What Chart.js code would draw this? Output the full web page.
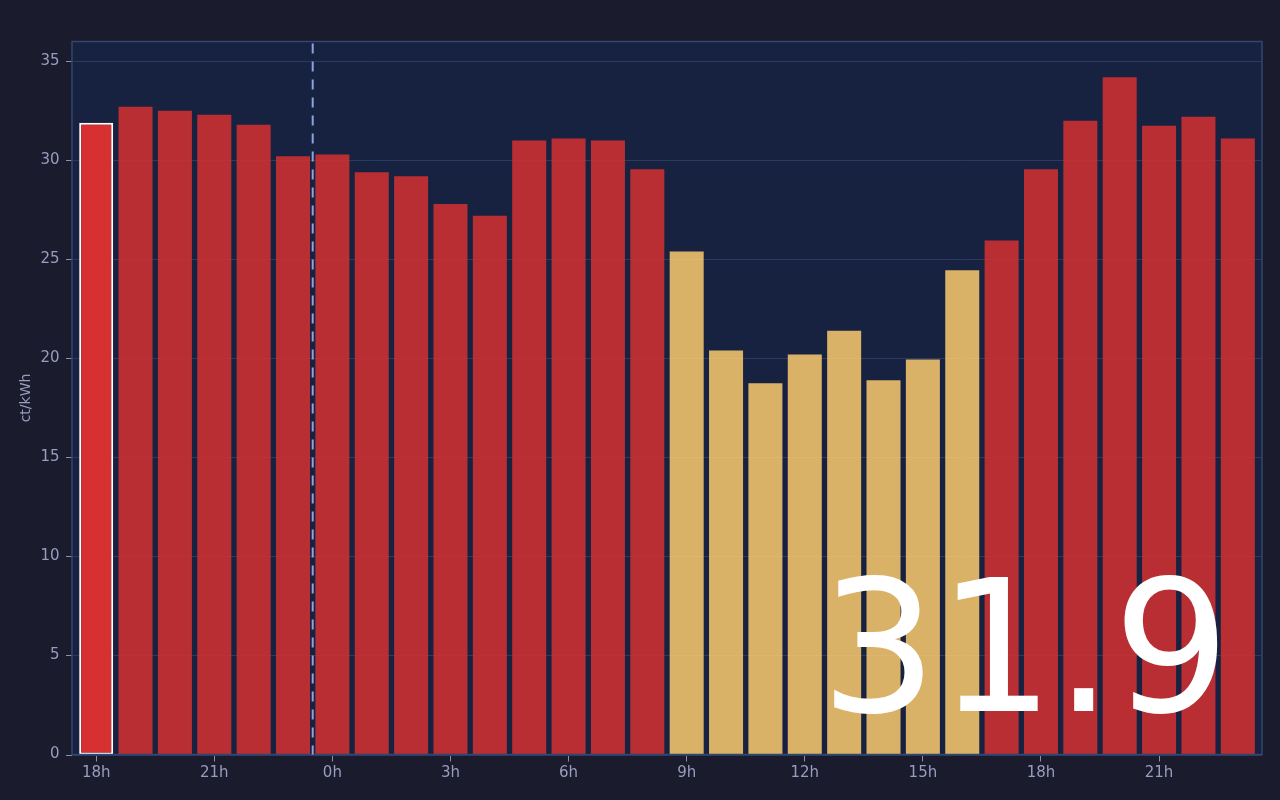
<!DOCTYPE html>
<html>
<head>
<meta charset="utf-8">
<style>
  html, body { margin: 0; padding: 0; background: #1b1b2e; }
  #wrap { position: relative; width: 1280px; height: 800px; }
  canvas { display: block; }
</style>
<script src="https://cdn.jsdelivr.net/npm/chart.js@4.4.1/dist/chart.umd.min.js"></script>
</head>
<body>
<div id="wrap"><canvas id="c" width="1280" height="800"></canvas></div>
<script>
const hours = [18,19,20,21,22,23,0,1,2,3,4,5,6,7,8,9,10,11,12,13,14,15,16,17,18,19,20,21,22,23];
const labels = hours.map(h => h + 'h');
const prices = [31.9,32.7,32.5,32.3,31.8,30.2,30.3,29.4,29.2,27.8,27.2,31.0,31.1,31.0,29.55,
                25.4,20.4,18.75,20.2,21.4,18.9,19.95,24.45,25.95,29.55,32.0,34.2,31.75,32.2,31.1];
const cheap = [false,false,false,false,false,false,false,false,false,false,false,false,false,false,false,
               true,true,true,true,true,true,true,true,false,false,false,false,false,false,false];
const yTickValues = [0,5,10,15,20,25,30,35];
const currentIndex = 0;
const midnightIndex = 6;
const currentValueText = '31.9';
const yTitle = 'ct/kWh';

const RED = 'rgba(214,48,49,0.85)';
const RED_NOW = '#d63031';
const YELLOW = 'rgba(253,203,110,0.85)';
const FRAME = '#33466e';
const GRID = '#2b3b60';
const TICK = '#8a90b0';
const TEXT = '#9a9cbe';

const bgColors = prices.map((v, i) => i === currentIndex ? RED_NOW : (cheap[i] ? YELLOW : RED));
const borderColors = prices.map((v, i) => i === currentIndex ? '#ffffff' : 'rgba(0,0,0,0)');
const borderWidths = prices.map((v, i) => i === currentIndex ? 2 : 0);

const EXT = 4.5; // frame extends beyond the category range

const frame = {
  id: 'frame',
  beforeDraw(chart) {
    const {ctx, chartArea: a} = chart;
    ctx.save();
    ctx.fillStyle = '#172241';
    ctx.fillRect(a.left - EXT, a.top, a.right - a.left + 2 * EXT, a.bottom - a.top);
    ctx.restore();
  },
  beforeDatasetsDraw(chart) {
    const {ctx, chartArea: a, scales} = chart;
    ctx.save();
    ctx.lineWidth = 1;
    yTickValues.forEach(v => {
      const y = Math.round(scales.y.getPixelForValue(v)) + 0.5;
      ctx.strokeStyle = GRID;
      ctx.beginPath();
      ctx.moveTo(a.left - EXT, y);
      ctx.lineTo(a.right + EXT, y);
      ctx.stroke();
      ctx.strokeStyle = TICK;
      ctx.beginPath();
      ctx.moveTo(a.left - EXT - 6, y);
      ctx.lineTo(a.left - EXT, y);
      ctx.stroke();
    });
    ctx.restore();
  },
  afterDatasetsDraw(chart) {
    const {ctx, chartArea: a, scales} = chart;
    // frame
    ctx.save();
    ctx.strokeStyle = FRAME;
    ctx.lineWidth = 1.5;
    ctx.strokeRect(a.left - EXT, a.top, a.right - a.left + 2 * EXT, a.bottom - a.top);
    ctx.restore();
    // midnight dashed line
    const x0 = scales.x.getPixelForValue(midnightIndex - 1);
    const x1 = scales.x.getPixelForValue(midnightIndex);
    const xm = (x0 + x1) / 2;
    ctx.save();
    ctx.strokeStyle = '#8ca3e0';
    ctx.lineWidth = 2;
    ctx.setLineDash([10, 8]);
    ctx.beginPath();
    ctx.moveTo(xm, a.top + 2);
    ctx.lineTo(xm, a.bottom);
    ctx.stroke();
    ctx.restore();
    // big current value
    ctx.save();
    ctx.fillStyle = '#ffffff';
    ctx.font = '184px "DejaVu Sans"';
    ctx.textAlign = 'right';
    ctx.textBaseline = 'alphabetic';
    ctx.fillText(currentValueText, 1230, 711);
    ctx.restore();
  }
};

new Chart(document.getElementById('c'), {
  type: 'bar',
  data: {
    labels: labels,
    datasets: [{
      data: prices,
      backgroundColor: bgColors,
      borderColor: borderColors,
      borderWidth: borderWidths,
      borderSkipped: false,
      categoryPercentage: 0.96,
      barPercentage: 0.9
    }]
  },
  options: {
    responsive: false,
    animation: false,
    devicePixelRatio: 1,
    layout: { padding: { top: 41.5, right: 22.5, left: 0, bottom: 0 } },
    plugins: { legend: { display: false }, tooltip: { enabled: false } },
    scales: {
      x: {
        afterFit(s) { s.height = 45.5; },
        grid: {
          offset: false,
          drawOnChartArea: false,
          tickLength: 7,
          tickColor: (c) => (c.index % 3 === 0 ? TICK : 'rgba(0,0,0,0)')
        },
        border: { display: false },
        ticks: {
          autoSkip: false,
          maxRotation: 0,
          padding: 3,
          color: TEXT,
          font: { family: 'DejaVu Sans', size: 15 },
          callback: (v, i) => (i % 3 === 0 ? labels[i] : '')
        }
      },
      y: {
        min: 0,
        max: 36,
        afterFit(s) { s.width = 76.5; },
        afterBuildTicks(s) { s.ticks = yTickValues.map(v => ({ value: v })); },
        grid: { display: false, drawTicks: false, tickLength: 0 },
        border: { display: false },
        ticks: {
          padding: 17,
          color: TEXT,
          font: { family: 'DejaVu Sans', size: 15 }
        },
        title: {
          display: true,
          text: yTitle,
          color: TEXT,
          font: { family: 'DejaVu Sans', size: 14 },
          padding: { top: 18, bottom: 0 }
        }
      }
    }
  },
  plugins: [frame]
});
</script>
</body>
</html>
